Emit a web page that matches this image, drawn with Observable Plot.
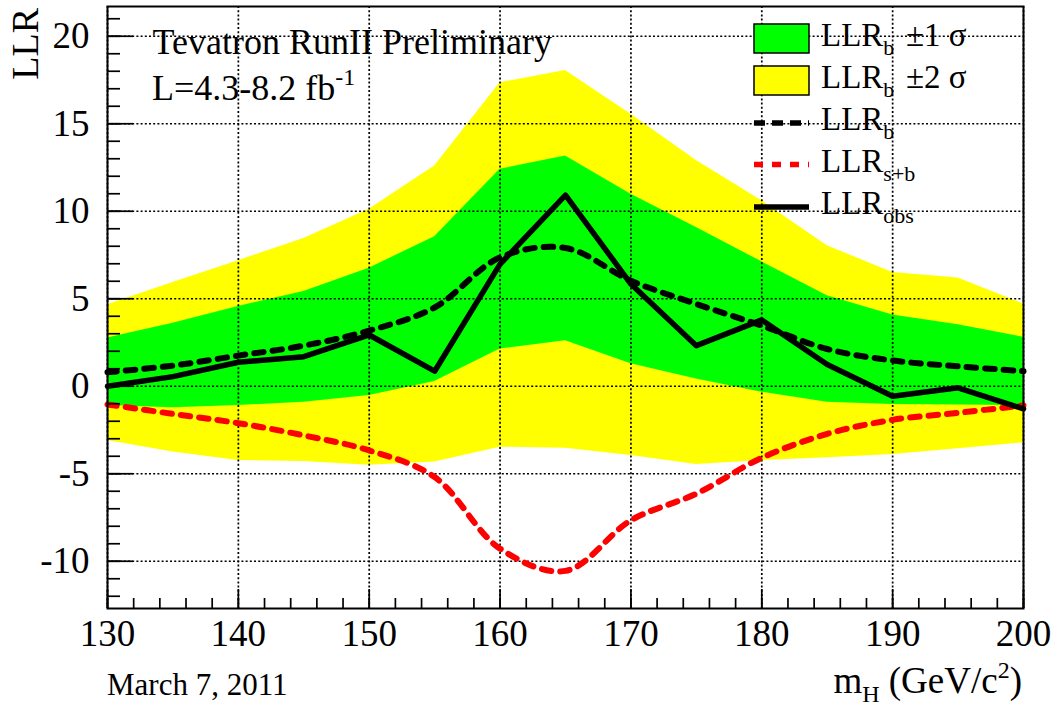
<!DOCTYPE html>
<html>
<head>
<meta charset="utf-8">
<script src="https://cdn.jsdelivr.net/npm/d3@7"></script>
<script src="https://cdn.jsdelivr.net/npm/@observablehq/plot@0.6"></script>
<style>
  html, body { margin: 0; padding: 0; background: #fff; }
  #chart { width: 1056px; height: 706px; }
  #chart svg, #chart svg text { font-family: "Liberation Serif", "Times New Roman", "DejaVu Serif", serif; }
</style>
</head>
<body>
<div id="chart"></div>
<script>
// Higgs mass points (GeV/c^2)
const mass = [130, 135, 140, 145, 150, 155, 160, 165, 170, 175, 180, 185, 190, 195, 200];
// LLR_b +/- 2 sigma band
const band2Up = [4.66, 5.93, 7.17, 8.44, 10.12, 12.59, 17.34, 18.05, 15.54, 12.9, 10.6, 8.03, 6.5, 6.18, 4.7];
const band2Lo = [-3.1, -3.76, -4.24, -4.3, -4.52, -4.33, -3.48, -3.54, -3.95, -4.47, -4.24, -4.09, -3.9, -3.57, -3.23];
// LLR_b +/- 1 sigma band
const band1Up = [2.76, 3.6, 4.56, 5.42, 6.75, 8.54, 12.4, 13.16, 10.97, 9.07, 7.11, 5.17, 4.07, 3.52, 2.8];
const band1Lo = [-1.1, -1.23, -1.1, -0.91, -0.53, 0.27, 2.13, 2.6, 1.28, 0.42, -0.34, -0.91, -1.04, -1.07, -1.1];
// expected LLR (background only)
const llrB = [0.8, 1.18, 1.75, 2.32, 3.18, 4.5, 7.36, 7.9, 6.03, 4.7, 3.46, 2.13, 1.47, 1.14, 0.86];
// expected LLR (signal + background)
const llrSB = [-1.04, -1.58, -2.11, -2.81, -3.67, -5.19, -9.28, -10.55, -7.66, -6.14, -4.09, -2.72, -1.92, -1.52, -1.1];
// observed LLR
const llrObs = [0.0, 0.55, 1.37, 1.69, 2.93, 0.86, 6.98, 10.92, 5.84, 2.32, 3.79, 1.24, -0.57, -0.09, -1.29];

// axis ticks
const xMajor = [130, 140, 150, 160, 170, 180, 190, 200];
const xMinor = d3.range(130, 201, 2);
const yMajor = [-10, -5, 0, 5, 10, 15, 20];
const yMinor = d3.range(-12, 22, 1);

const rows = mass.map((m, i) => ({
  m, u2: band2Up[i], l2: band2Lo[i], u1: band1Up[i], l1: band1Lo[i],
  b: llrB[i], sb: llrSB[i], obs: llrObs[i]
}));

const W = 1056, H = 706;
const mL = 107, mR = 33, mT = 6, mB = 98;
const pw = W - mL - mR, ph = H - mT - mB;
const FONT = '"Liberation Serif", "Times New Roman", "DejaVu Serif", serif';

const chart = Plot.plot({
  width: W, height: H,
  marginLeft: mL, marginRight: mR, marginTop: mT, marginBottom: mB,
  style: {fontFamily: FONT, background: "#fff", color: "black"},
  x: {domain: [130, 200]},
  y: {domain: [-12.7, 21.7]},
  marks: [
    Plot.areaY(rows, {x: "m", y1: "l2", y2: "u2", fill: "#ffff00", fillOpacity: 1}),
    Plot.areaY(rows, {x: "m", y1: "l1", y2: "u1", fill: "#00ff00", fillOpacity: 1}),
    Plot.gridX(xMajor, {stroke: "black", strokeOpacity: 1, strokeWidth: 1.7, strokeDasharray: "2,2.2"}),
    Plot.gridY(yMajor, {stroke: "black", strokeOpacity: 1, strokeWidth: 1.7, strokeDasharray: "2,2.2"}),
    Plot.line(rows, {x: "m", y: "sb", stroke: "#ff0000", strokeWidth: 6, strokeDasharray: "9.5,9", curve: "catmull-rom"}),
    Plot.line(rows, {x: "m", y: "b", stroke: "black", strokeWidth: 6, strokeDasharray: "9.5,9", curve: "catmull-rom"}),
    Plot.line(rows, {x: "m", y: "obs", stroke: "black", strokeWidth: 5.5}),
    // inside tick marks
    Plot.tickX(xMinor, {x: d => d, stroke: "black", strokeWidth: 1.7, insetTop: ph - 10}),
    Plot.tickX(xMajor, {x: d => d, stroke: "black", strokeWidth: 1.7, insetTop: ph - 19}),
    Plot.tickY(yMinor, {y: d => d, stroke: "black", strokeWidth: 1.7, insetRight: pw - 13}),
    Plot.tickY(yMajor, {y: d => d, stroke: "black", strokeWidth: 1.7, insetRight: pw - 26}),
    Plot.frame({stroke: "black", strokeWidth: 2}),
    Plot.axisX(xMajor, {tickSize: 0, tickPadding: 11, fontSize: 37, fontFamily: FONT, tickFormat: d => String(d), label: null}),
    Plot.axisY(yMajor, {tickSize: 0, tickPadding: 18, fontSize: 37, fontFamily: FONT, tickFormat: d => String(d), label: null}),
    Plot.text(["Tevatron RunII Preliminary"], {frameAnchor: "top-left", dx: 45, dy: 22, fontSize: 36, fontFamily: FONT, textAnchor: "start", lineAnchor: "top"})
  ]
});
document.getElementById("chart").appendChild(chart);

// Additional text with sub/superscripts and the legend
const svg = d3.select(chart);
const g = svg.append("g").attr("font-family", FONT).attr("fill", "black").attr("text-anchor", "start");

// luminosity
const lum = g.append("text").attr("x", 152).attr("y", 100).attr("font-size", 36).attr("text-anchor", "start");
lum.append("tspan").text("L=4.3-8.2 fb");
lum.append("tspan").attr("font-size", 24).attr("dy", -15).text("-1");

// y-axis title
g.append("text").attr("transform", "translate(38,8) rotate(-90)")
  .attr("text-anchor", "end").attr("font-size", 38).text("LLR");

// x-axis title
const xl = g.append("text").attr("x", 1022).attr("y", 693).attr("font-size", 37).attr("text-anchor", "end");
xl.append("tspan").text("m");
xl.append("tspan").attr("font-size", 24).attr("dy", 9).text("H");
xl.append("tspan").attr("dy", -9).text(" (GeV/c");
xl.append("tspan").attr("font-size", 24).attr("dy", -15).text("2");
xl.append("tspan").attr("dy", 15).text(")");

// date
g.append("text").attr("x", 107).attr("y", 695).attr("font-size", 31).attr("text-anchor", "start").text("March 7, 2011");

// legend
const legendItems = [
  {type: "box", fill: "#00ff00", sub: "b", extra: "±1 σ"},
  {type: "box", fill: "#ffff00", sub: "b", extra: "±2 σ"},
  {type: "line", stroke: "black", dash: "11,7", sub: "b"},
  {type: "line", stroke: "#ff0000", dash: "9,9", sub: "s+b"},
  {type: "line", stroke: "black", dash: null, sub: "obs"}
];
const lg = g.append("g");
const rowY = [38.5, 80.5, 123, 164.5, 207];
legendItems.forEach((it, i) => {
  const cy = rowY[i];
  if (it.type === "box") {
    lg.append("rect").attr("x", 754).attr("y", cy - 14.5).attr("width", 55).attr("height", 29)
      .attr("fill", it.fill).attr("stroke", "black").attr("stroke-width", 1.5);
  } else {
    const l = lg.append("line").attr("x1", 754).attr("x2", 809).attr("y1", cy).attr("y2", cy)
      .attr("stroke", it.stroke).attr("stroke-width", 5.5);
    if (it.dash) l.attr("stroke-dasharray", it.dash);
  }
  const t = lg.append("text").attr("x", 821).attr("y", cy + 7).attr("font-size", 33).attr("text-anchor", "start");
  t.append("tspan").text("LLR");
  t.append("tspan").attr("font-size", 22).attr("dy", 9).text(it.sub);
  if (it.extra) {
    t.append("tspan").attr("x", 906).attr("dy", -9).text(it.extra);
  }
});
</script>
</body>
</html>
